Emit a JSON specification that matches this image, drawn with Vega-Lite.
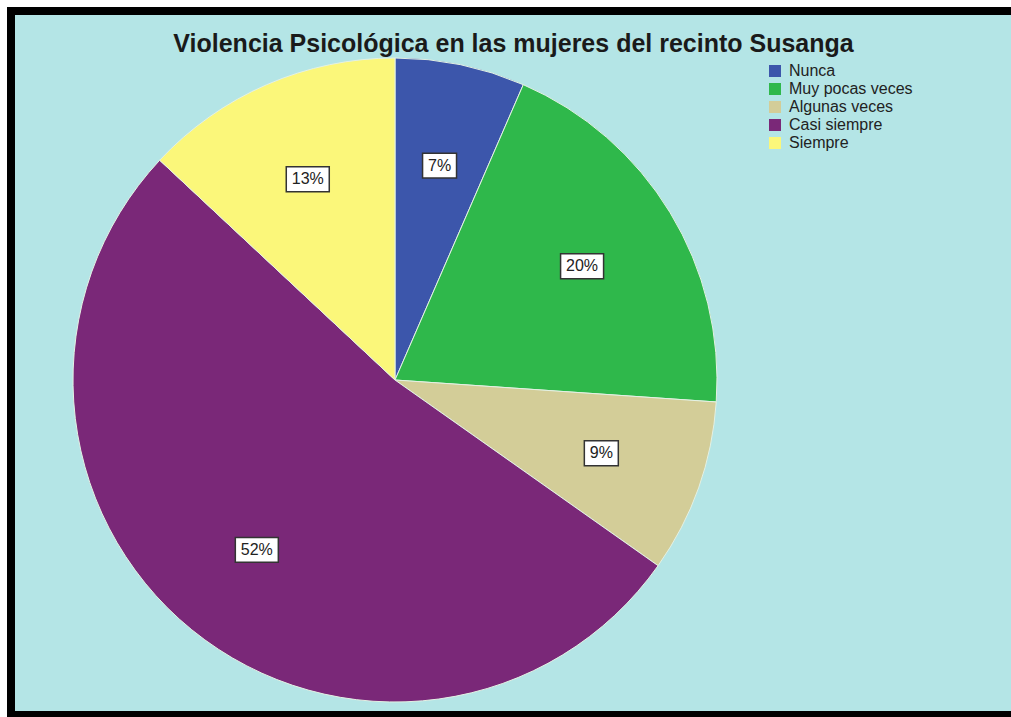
{
  "$schema": "https://vega.github.io/schema/vega-lite/v6.json",
  "autosize": {"type": "fit", "contains": "padding"},
  "width": 1011,
  "height": 717,
  "padding": {"left": 11, "top": 11, "right": -5, "bottom": 2},
  "background": "white",
  "config": {
    "view": {"fill": "#b4e5e6", "stroke": "black", "strokeWidth": 8},
    "font": "Liberation Sans"
  },
  "title": {
    "text": "Violencia Psicológica en las mujeres del recinto Susanga",
    "fontSize": 25,
    "fontWeight": "bold",
    "font": "Liberation Sans",
    "color": "#1a1a1a",
    "anchor": "middle",
    "frame": "group",
    "offset": -46
  },
  "data": {
    "values": [
      {"category": "Nunca", "count": 3, "ord": 1},
      {"category": "Muy pocas veces", "count": 9, "ord": 2},
      {"category": "Algunas veces", "count": 4, "ord": 3},
      {"category": "Casi siempre", "count": 24, "ord": 4},
      {"category": "Siempre", "count": 6, "ord": 5}
    ]
  },
  "transform": [
    {"joinaggregate": [{"op": "sum", "field": "count", "as": "total"}]},
    {"window": [{"op": "sum", "field": "count", "as": "cum"}], "sort": [{"field": "ord"}], "frame": [null, 0]},
    {"calculate": "(datum.cum - datum.count / 2) / datum.total * 2 * PI", "as": "mid"},
    {"calculate": "sin(datum.mid) * 0.68", "as": "lx"},
    {"calculate": "cos(datum.mid) * 0.68", "as": "ly"},
    {"calculate": "format(datum.count / datum.total, '.0%')", "as": "pct"}
  ],
  "layer": [
    {
      "mark": {"type": "arc", "outerRadius": 322, "x": 384, "y": 369, "stroke": "#e4f1e4", "strokeWidth": 1},
      "encoding": {
        "theta": {"field": "count", "type": "quantitative", "stack": true},
        "order": {"field": "ord", "type": "quantitative"},
        "color": {
          "field": "category",
          "type": "nominal",
          "scale": {
            "domain": ["Nunca", "Muy pocas veces", "Algunas veces", "Casi siempre", "Siempre"],
            "range": ["#3c56ab", "#2fb84b", "#d3cd98", "#7a2878", "#fbf77a"]
          },
          "legend": {
            "title": null,
            "orient": "none",
            "legendX": 756,
            "legendY": 52,
            "padding": 0,
            "symbolType": "square",
            "symbolSize": 144,
            "symbolStrokeWidth": 0,
            "symbolOpacity": 1,
            "labelFontSize": 16,
            "labelFont": "Liberation Sans",
            "labelColor": "#222222",
            "labelOffset": 6,
            "rowPadding": 2
          }
        }
      }
    },
    {
      "mark": {"type": "point", "filled": true, "fill": "white", "stroke": "#333333", "strokeWidth": 1.5, "opacity": 1, "size": 1849},
      "encoding": {
        "x": {"field": "lx", "type": "quantitative", "axis": null, "scale": {"domain": [-1, 1], "range": [62, 706], "nice": false, "zero": false}},
        "y": {"field": "ly", "type": "quantitative", "axis": null, "scale": {"domain": [-1, 1], "range": [691, 47], "nice": false, "zero": false}},
        "shape": {
          "condition": {"test": "length(datum.pct) < 3", "value": "M-0.79,-0.58H0.79V0.58H-0.79Z"},
          "value": "M-1,-0.58H1V0.58H-1Z"
        }
      }
    },
    {
      "mark": {"type": "text", "fontSize": 16, "font": "Liberation Sans", "color": "#222222", "baseline": "middle", "align": "center"},
      "encoding": {
        "x": {"field": "lx", "type": "quantitative"},
        "y": {"field": "ly", "type": "quantitative"},
        "text": {"field": "pct", "type": "nominal"}
      }
    }
  ]
}
